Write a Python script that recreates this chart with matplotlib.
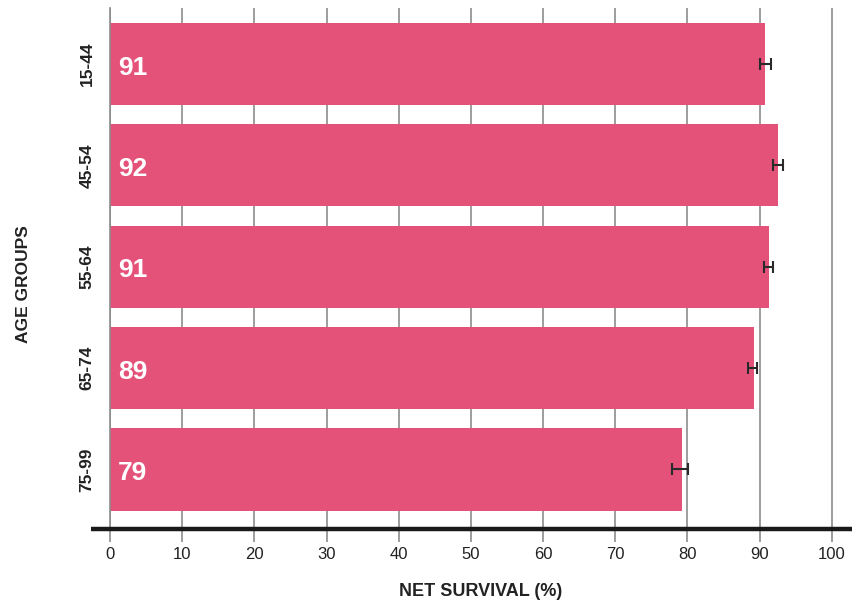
import matplotlib
matplotlib.use("Agg")
import matplotlib.pyplot as plt
from matplotlib import font_manager

# Net survival by age group, with 95% confidence intervals
age_groups = ["15-44", "45-54", "55-64", "65-74", "75-99"]
survival = [90.8, 92.5, 91.3, 89.2, 79.2]
ci_low = [90.0, 91.8, 90.6, 88.4, 77.8]
ci_high = [91.6, 93.2, 91.9, 89.6, 80.1]
labels = ["91", "92", "91", "89", "79"]
x_ticks = [0, 10, 20, 30, 40, 50, 60, 70, 80, 90, 100]

names = {f.name for f in font_manager.fontManager.ttflist}
family = ["Liberation Sans Narrow", "DejaVu Sans"] if "Liberation Sans Narrow" in names else ["Liberation Sans", "DejaVu Sans"]
plt.rcParams["font.family"] = family

bar_color = "#E4527A"
grid_color = "#8c8c8c"

fig = plt.figure(figsize=(8.64, 6.06), dpi=100)
ax = fig.add_axes([110 / 864, 1 - 529 / 606, 742 / 864, 521 / 606])

pos = list(range(len(age_groups)))
ax.barh(pos, survival, height=0.81, color=bar_color, zorder=2)

err_lo = [s - l for s, l in zip(survival, ci_low)]
err_hi = [h - s for s, h in zip(survival, ci_high)]
ax.errorbar(survival, pos, xerr=[err_lo, err_hi], fmt="none", ecolor="#2a2a2a",
            elinewidth=1.5, capsize=4, capthick=1.5, zorder=3)

for p, lab in zip(pos, labels):
    ax.text(1.1, p + 0.035, lab, color="white", fontsize=19, fontweight="bold",
            va="center", ha="left", zorder=4)

ax.set_xlim(0, 102.8)
ax.set_ylim(4.587, -0.552)
ax.set_xticks(x_ticks)
ax.set_xticklabels([str(t) for t in x_ticks], fontsize=12, color="#222222")
ax.set_yticks(pos)
ax.set_yticklabels(age_groups, rotation=90, va="center", fontsize=12.5,
                   fontweight="bold", color="#222222")

ax.grid(axis="x", color=grid_color, linewidth=1.2, zorder=0)
ax.set_axisbelow(True)
ax.tick_params(axis="x", length=9, width=1.2, color=grid_color, pad=4, direction="out")
ax.tick_params(axis="y", length=0, pad=11)

for side in ["top", "right", "bottom"]:
    ax.spines[side].set_visible(False)
ax.spines["left"].set_color(grid_color)
ax.spines["left"].set_linewidth(1.2)

# heavy baseline extending past the plotting area
ax.plot([-2.65, 102.8], [4.587, 4.587], color="#1a1a1a", linewidth=3.2,
        clip_on=False, zorder=5, solid_capstyle="butt")

ax.set_xlabel("NET SURVIVAL (%)", fontsize=13, fontweight="bold",
              color="#222222", labelpad=15)
fig.text(24 / 864, 1 - 284 / 606, "AGE GROUPS", rotation=90, fontsize=12.5,
         fontweight="bold", color="#222222", ha="center", va="center")

fig.savefig("out.png", dpi=100)
